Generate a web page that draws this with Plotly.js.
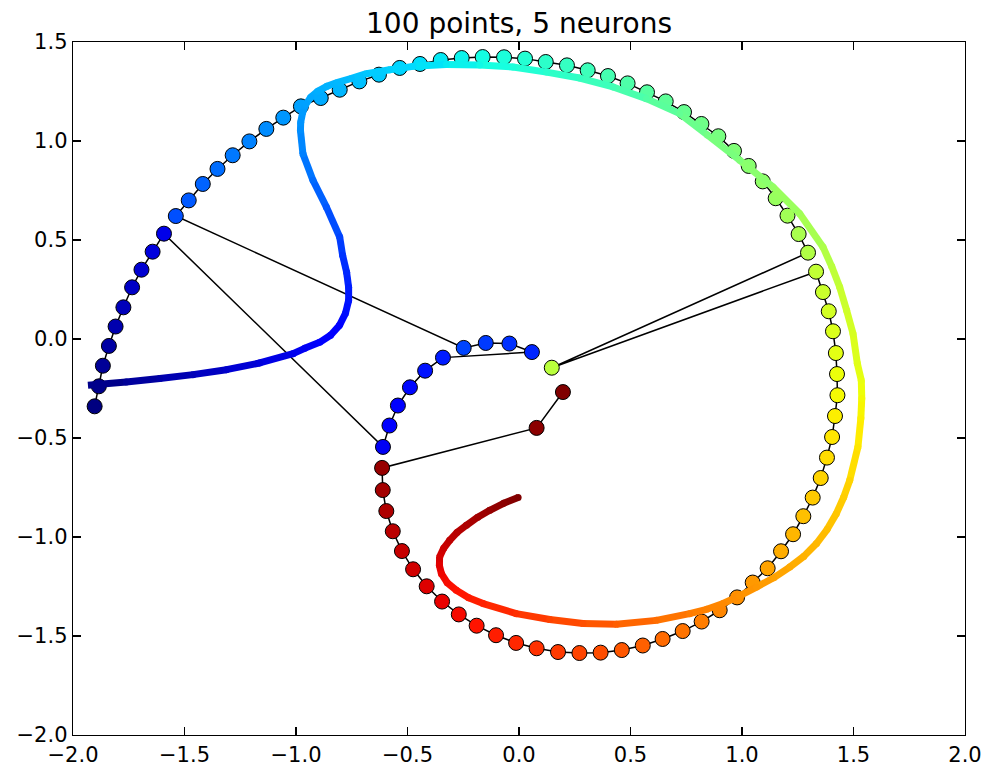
<!DOCTYPE html>
<html>
<head>
<meta charset="utf-8">
<script src="https://cdn.plot.ly/plotly-3.0.1.min.js"></script>
<style>html,body{margin:0;padding:0;background:#fff;}#chart{width:991px;height:766px;}</style>
</head>
<body>
<div id="chart"></div>
<script>
// 100 data points (in order, coloured by index with the jet colormap)
const pointX = [-1.903,-1.884,-1.866,-1.839,-1.809,-1.774,-1.735,-1.693,-1.643,-1.592,
  -0.610,-0.581,-0.543,-0.489,-0.421,-0.341,0.058,-0.043,-0.149,-0.248,
  -1.539,-1.481,-1.418,-1.352,-1.284,-1.209,-1.133,-1.057,-0.978,-0.889,
  -0.804,-0.716,-0.628,-0.535,-0.444,-0.351,-0.257,-0.163,-0.067,0.027,
  0.120,0.215,0.308,0.399,0.487,0.574,0.658,0.740,0.818,0.894,
  0.964,1.030,1.093,1.151,1.204,1.254,1.296,0.147,1.332,1.363,
  1.389,1.408,1.421,1.426,1.428,1.417,1.404,1.381,1.353,1.317,
  1.275,1.229,1.175,1.115,1.048,0.978,0.900,0.819,0.734,0.644,
  0.555,0.461,0.366,0.271,0.175,0.079,-0.013,-0.103,-0.190,-0.270,
  -0.345,-0.414,-0.475,-0.525,-0.566,-0.595,-0.611,-0.614,0.079,0.197];
const pointY = [-0.340,-0.239,-0.135,-0.035,0.063,0.160,0.261,0.350,0.441,0.532,
  -0.545,-0.437,-0.336,-0.244,-0.160,-0.094,-0.066,-0.023,-0.020,-0.045,
  0.621,0.700,0.783,0.859,0.928,0.998,1.061,1.118,1.175,1.217,
  1.259,1.301,1.335,1.369,1.389,1.409,1.419,1.424,1.423,1.416,
  1.399,1.382,1.357,1.328,1.291,1.246,1.200,1.146,1.086,1.024,
  0.950,0.874,0.796,0.711,0.623,0.530,0.436,-0.145,0.340,0.237,
  0.140,0.039,-0.071,-0.177,-0.284,-0.389,-0.495,-0.599,-0.702,-0.801,
  -0.895,-0.986,-1.072,-1.158,-1.230,-1.305,-1.370,-1.427,-1.475,-1.515,
  -1.548,-1.571,-1.584,-1.586,-1.581,-1.562,-1.535,-1.496,-1.448,-1.391,
  -1.326,-1.249,-1.163,-1.071,-0.971,-0.869,-0.763,-0.651,-0.449,-0.268];

// 5-neuron path (thick coloured curve) and its colour parameter
const curveX = [-1.933,-1.761,-1.611,-1.462,-1.312,-1.163,-1.013,-0.961,-0.894,-0.845,
  -0.805,-0.778,-0.764,-0.764,-0.773,-0.791,-0.804,-0.864,-0.924,-0.969,
  -0.980,-0.979,-0.970,-0.956,-0.934,-0.903,-0.862,-0.813,-0.751,-0.684,
  -0.580,-0.475,-0.326,-0.176,-0.027,0.123,0.272,0.422,0.571,0.721,
  0.845,0.990,1.139,1.259,1.363,1.402,1.438,1.469,1.498,1.517,
  1.535,1.537,1.533,1.520,1.483,1.456,1.423,1.382,1.334,1.277,
  1.214,1.142,1.065,0.989,0.915,0.842,0.765,0.616,0.437,0.287,
  0.138,-0.012,-0.161,-0.226,-0.281,-0.322,-0.348,-0.357,-0.356,-0.338,
  -0.311,-0.277,-0.236,-0.185,-0.131,-0.069,-0.004];
const curveY = [-0.234,-0.217,-0.200,-0.180,-0.155,-0.121,-0.074,-0.047,-0.017,0.019,
  0.069,0.130,0.195,0.261,0.337,0.423,0.515,0.667,0.802,0.936,
  1.054,1.094,1.145,1.185,1.221,1.251,1.276,1.296,1.316,1.340,
  1.360,1.377,1.386,1.384,1.374,1.348,1.318,1.273,1.214,1.138,
  1.030,0.903,0.768,0.633,0.465,0.367,0.263,0.145,0.027,-0.123,
  -0.209,-0.300,-0.400,-0.545,-0.714,-0.799,-0.882,-0.961,-1.033,-1.098,
  -1.152,-1.206,-1.253,-1.297,-1.336,-1.365,-1.387,-1.421,-1.441,-1.437,
  -1.417,-1.387,-1.336,-1.307,-1.269,-1.231,-1.185,-1.143,-1.101,-1.057,
  -1.017,-0.976,-0.941,-0.900,-0.865,-0.830,-0.801];
const curveT = [0.000,0.020,0.035,0.050,0.065,0.080,0.095,0.100,0.110,0.117,
  0.125,0.135,0.145,0.153,0.163,0.175,0.190,0.210,0.230,0.250,
  0.265,0.270,0.277,0.283,0.290,0.296,0.300,0.305,0.310,0.320,
  0.330,0.340,0.355,0.370,0.385,0.400,0.415,0.430,0.450,0.470,
  0.490,0.505,0.530,0.545,0.560,0.575,0.590,0.600,0.610,0.622,
  0.632,0.645,0.655,0.665,0.685,0.692,0.700,0.708,0.715,0.722,
  0.730,0.740,0.750,0.757,0.765,0.772,0.780,0.795,0.810,0.825,
  0.840,0.860,0.875,0.882,0.890,0.897,0.905,0.915,0.925,0.935,
  0.945,0.952,0.960,0.970,0.980,0.990,1.000];

const xTickVals = [-2.0,-1.5,-1.0,-0.5,0.0,0.5,1.0,1.5,2.0];
const xTickText = ['\u22122.0','\u22121.5','\u22121.0','\u22120.5','0.0','0.5','1.0','1.5','2.0'];
const yTickVals = [-2.0,-1.5,-1.0,-0.5,0.0,0.5,1.0,1.5];
const yTickText = ['\u22122.0','\u22121.5','\u22121.0','\u22120.5','0.0','0.5','1.0','1.5'];
const titleText = '100 points, 5 neurons';

// matplotlib "jet" colormap
function seg(pts, t) {
  for (let k = 0; k < pts.length - 1; k++) {
    const a = pts[k], b = pts[k + 1];
    if (t >= a[0] && t <= b[0]) return a[1] + (b[1] - a[1]) * (t - a[0]) / (b[0] - a[0]);
  }
  return pts[pts.length - 1][1];
}
function jet(t) {
  t = Math.max(0, Math.min(1, t));
  const r = seg([[0,0],[0.35,0],[0.66,1],[0.89,1],[1,0.5]], t);
  const g = seg([[0,0],[0.125,0],[0.375,1],[0.64,1],[0.91,0],[1,0]], t);
  const b = seg([[0,0.5],[0.11,1],[0.34,1],[0.65,0],[1,0]], t);
  return 'rgb(' + Math.round(r*255) + ',' + Math.round(g*255) + ',' + Math.round(b*255) + ')';
}

const traces = [];
const nP = pointX.length;
traces.push({
  x: pointX, y: pointY, mode: 'lines+markers', type: 'scatter',
  line: {color: 'black', width: 1.5},
  marker: {size: 15, color: pointX.map((_, i) => jet(i / (nP - 1))), line: {color: 'black', width: 1}},
  hoverinfo: 'skip', showlegend: false
});
for (let i = 0; i < curveX.length - 1; i++) {
  traces.push({
    x: [curveX[i], curveX[i + 1]], y: [curveY[i], curveY[i + 1]],
    mode: 'lines', type: 'scatter',
    line: {color: jet((curveT[i] + curveT[i + 1]) / 2), width: 7},
    hoverinfo: 'skip', showlegend: false
  });
}
traces.push({
  x: curveX.slice(1), y: curveY.slice(1), mode: 'markers', type: 'scatter',
  marker: {size: 7, color: curveT.slice(1).map(jet), line: {width: 0}},
  hoverinfo: 'skip', showlegend: false
});

const axisCommon = {
  showgrid: false, zeroline: false, showline: true, linecolor: 'black', linewidth: 1.3,
  mirror: 'allticks', ticks: 'inside', ticklen: 8, tickwidth: 1.2, tickcolor: 'black',
  tickfont: {family: 'DejaVu Sans', size: 21, color: 'black'}, tickmode: 'array'
};
const layout = {
  width: 991, height: 766,
  margin: {l: 73, r: 26, t: 42, b: 31, pad: 0},
  paper_bgcolor: 'white', plot_bgcolor: 'white',
  showlegend: false,
  title: {text: titleText, x: 0.5, xref: 'paper', y: 0.970, yref: 'container', yanchor: 'middle',
          font: {family: 'DejaVu Sans', size: 28, color: 'black'}},
  xaxis: Object.assign({}, axisCommon, {range: [-2, 2], tickvals: xTickVals, ticktext: xTickText}),
  yaxis: Object.assign({}, axisCommon, {range: [-2, 1.5], tickvals: yTickVals, ticktext: yTickText})
};
Plotly.newPlot('chart', traces, layout, {displayModeBar: false, staticPlot: true});
</script>
</body>
</html>
